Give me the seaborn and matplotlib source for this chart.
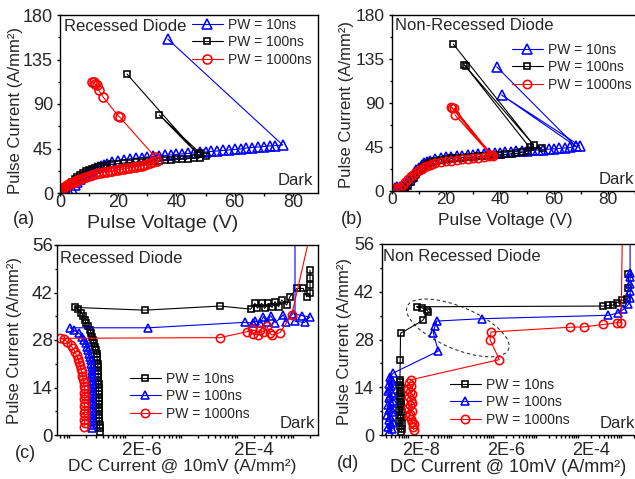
import numpy as np
import seaborn as sns
import matplotlib.pyplot as plt
from matplotlib.ticker import MultipleLocator, LogLocator, NullFormatter
from matplotlib.patches import Ellipse
import matplotlib.transforms as mtransforms

# ---------------- data ----------------
labels = ["PW = 10ns", "PW = 100ns", "PW = 1000ns"]

# (a) recessed diode, pulse I-V
a_blue_v = [2.5, 3, 4, 5, 6, 7, 8, 9, 10, 11, 12, 13, 14, 15, 16, 18, 20, 22, 24, 26,
            28, 30, 32, 34, 36, 38, 40, 42, 44, 46, 48, 50, 52, 54, 56, 58, 60, 62, 64, 66,
            68, 70, 72, 74, 76.5, 37.0]
a_blue_i = [0, 1, 4, 8, 11.5, 14.5, 17, 19.5, 21.5, 23.5, 25, 26.5, 27.5, 28.5, 29.5, 31, 32.5, 33.5, 34.5, 35.2,
            35.8, 36.4, 37, 37.5, 38, 38.5, 39, 39.5, 40, 40.5, 41, 41.5, 42, 42.5, 43, 43.5, 44, 44.5, 45.5, 46,
            46.5, 47, 47.5, 48, 48.5, 155.7]
a_black_v = [1, 2, 3, 4, 5, 6, 7, 8, 9, 10, 11, 12, 13, 14, 15, 16, 18, 20, 22, 24,
             26, 28, 30, 32, 34, 36, 38, 40, 42, 44, 46, 48, 50, 48.2, 34.1, 47.4, 23.0]
a_black_i = [2, 5, 8, 11, 14, 16.5, 18.5, 20.5, 22, 23.5, 24.5, 25.5, 26.3, 27, 27.6, 28.2, 29, 29.7, 30.3, 30.8,
             31.2, 31.6, 32, 32.4, 32.8, 33.2, 33.6, 34, 34.4, 34.8, 35.2, 35.8, 37.4, 40.0, 78.9, 39.0, 120.3]
a_red_v = [0, 0.5, 1, 1.5, 2, 2.5, 3, 3.5, 4, 4.5, 5, 6, 7, 8, 9, 10, 11, 12, 13, 14,
           15, 16, 17, 18, 19, 20, 21, 22, 23, 24, 25, 26, 27, 28, 29, 30, 31, 32, 33.2,
           32.6, 20.6, 20.0, 14.9, 13.3, 12.6, 12.0, 11.8, 10.9]
a_red_i = [3, 4, 5, 6, 7, 8, 9, 10, 10.5, 11, 11.5, 13, 14.5, 15.5, 16.5, 17.5, 18.5, 19.3, 20, 20.5,
           21, 21.5, 22, 22.5, 23, 23.5, 24, 24.5, 25, 25.5, 26, 26.6, 27.2, 27.8, 28.5, 29.2, 30, 31, 32.3,
           36.7, 76.5, 78, 96.7, 104, 108.8, 110, 112, 112]

# (b) non-recessed diode, pulse I-V
b_blue_v = [0, 1, 2, 3, 4, 5, 6, 7, 8, 9, 10, 11, 12, 13, 14, 16, 18, 20, 22, 24,
            26, 28, 30, 32, 34, 36, 38, 40, 42, 44, 46, 48, 50, 52, 54, 56, 58, 60, 62, 64,
            66, 69.5, 40.6, 68.0, 38.8]
b_blue_i = [3, 3.5, 4, 4.5, 5.5, 8, 11, 14.5, 18, 21, 24, 26.5, 28.5, 30, 31, 32.5, 33.5, 34.3, 35, 35.5,
            36, 36.5, 37, 37.5, 38, 38.4, 38.8, 39.2, 39.6, 40, 40.4, 40.8, 41.2, 41.6, 42, 42.4, 42.8, 43.2, 43.6, 44,
            44.5, 46.5, 98.2, 46.0, 127.0]
b_black_v = [4, 5, 6, 7, 8, 9, 10, 11, 12, 13, 14, 16, 18, 20, 22, 24, 26, 28, 30, 32,
             34, 36, 38, 40, 42, 44, 46, 48, 50.5, 55.4, 51.0, 27.3, 26.8, 52.5, 22.7]
b_black_i = [0, 2, 5, 9, 13, 17, 20.5, 23.5, 26, 28, 29.5, 31, 32, 32.8, 33.3, 33.8, 34.2, 34.6, 35, 35.4,
             35.8, 36.2, 36.6, 37, 37.5, 38, 38.5, 39.5, 41, 44.3, 44.5, 127.5, 129, 47, 150.3]
b_red_v = [0, 1, 2, 3, 4, 5, 6, 7, 8, 9, 10, 11, 12, 13, 14, 15, 16, 18, 20, 22,
           24, 26, 28, 30, 32, 34, 36, 37.5, 23.3, 36.5, 23.0, 37.0, 21.8, 22.3]
b_red_i = [2.5, 3, 3.5, 4.5, 6, 9, 12, 15, 17.5, 19.5, 21.5, 23, 24.5, 25.7, 26.7, 27.5, 28.2, 29.3, 30.2, 31,
           31.7, 32.3, 32.9, 33.5, 34.1, 34.7, 35.3, 36.1, 77.8, 37.2, 84.6, 36.6, 86.2, 85]

# (c) recessed diode, pulse current vs DC leakage
c_black_x = [3.55e-7, 3.5e-7, 3.5e-7, 3.45e-7, 3.45e-7, 3.45e-7, 3.4e-7, 3.4e-7, 3.4e-7, 3.4e-7,
             3.4e-7, 3.35e-7, 3.35e-7, 3.35e-7, 3.35e-7, 3.3e-7, 3.3e-7, 3.3e-7, 3.3e-7, 3.25e-7,
             3.25e-7, 3.2e-7, 3.15e-7, 3.1e-7, 3.0e-7, 2.9e-7, 2.8e-7, 2.7e-7, 2.6e-7, 2.5e-7,
             2.35e-7, 2.2e-7, 2.0e-7, 1.9e-7, 1.8e-7, 1.65e-7, 1.45e-7, 1.27e-7,
             2.26e-6, 4.94e-5, 1.75e-4, 2.08e-4, 2.3e-4, 2.74e-4, 3.1e-4, 3.6e-4, 4.2e-4, 4.74e-4,
             5.5e-4, 6.24e-4, 7.66e-4, 8.79e-4, 1.16e-3, 1.52e-3, 1.74e-3, 2.0e-3, 2.0e-3, 2.0e-3, 2.0e-3]
c_black_y = [1, 2, 3, 4, 5, 6, 7, 8, 9, 10, 11, 12, 13, 14, 15, 16, 17, 18, 19, 20,
             21, 22, 23, 24, 25, 26, 27, 28, 29, 30, 31, 32, 33, 34, 35, 36, 37, 37.6,
             36.8, 38.0, 37.1, 38.8, 37.4, 38.8, 37.3, 38.8, 37.6, 39.3,
             37.8, 39.8, 38.3, 40.8, 43.2, 43.2, 40.8, 41.8, 44.2, 46.2, 48.6]
c_blue_x = [2.55e-7, 2.6e-7, 2.55e-7, 2.6e-7, 2.55e-7, 2.6e-7, 2.55e-7, 2.6e-7, 2.55e-7, 2.6e-7,
            2.55e-7, 2.6e-7, 2.55e-7, 2.6e-7, 2.55e-7, 2.55e-7, 2.55e-7, 2.55e-7,
            2.52e-7, 2.48e-7, 2.42e-7, 2.35e-7, 2.27e-7, 2.18e-7, 2.07e-7, 1.97e-7, 1.85e-7, 1.7e-7,
            1.5e-7, 1.2e-7, 1.04e-7,
            2.6e-6, 1.38e-4, 1.9e-4, 2.08e-4, 2.6e-4, 2.94e-4, 3.4e-4, 3.97e-4, 4.8e-4, 6.68e-4,
            7.5e-4, 9.8e-4, 1.42e-3, 2.0e-3, 1.6e-3, 1.08e-3, 1.08e-3]
c_blue_y = [2, 3, 4, 5, 6, 7, 8, 9, 10, 11, 12, 13, 14, 15, 16, 17, 18, 19,
            20, 21, 22, 23, 24, 25, 26, 27, 28, 29, 30, 31, 31.6,
            31.6, 33.2, 33.0, 33.6, 33.0, 34.9, 33.2, 35.2, 33.1, 35.4,
            33.3, 35.8, 35.2, 34.8, 33.2, 33.5, 80]
c_red_x = [1.85e-7, 1.9e-7, 1.85e-7, 1.9e-7, 1.85e-7, 1.9e-7, 1.85e-7, 1.9e-7, 1.85e-7, 1.9e-7,
           1.85e-7, 1.9e-7, 1.85e-7, 1.82e-7,
           1.77e-7, 1.73e-7, 1.68e-7, 1.63e-7, 1.57e-7, 1.5e-7, 1.44e-7, 1.36e-7, 1.27e-7, 1.17e-7,
           1.06e-7, 9.3e-8, 8.0e-8, 6.9e-8,
           4.94e-5, 1.52e-4, 1.82e-4, 1.95e-4, 2.39e-4, 2.56e-4, 2.94e-4, 3.37e-4, 3.86e-4, 4.14e-4,
           5.82e-4, 9.42e-4, 2.2e-3]
c_red_y = [2.5, 3.5, 4.5, 5.5, 6.5, 7.5, 8.5, 9.5, 10.5, 11.5, 12.5, 13.5, 14.5, 15.5,
           16.5, 17.5, 18.5, 19.5, 20.5, 21.5, 22.5, 23.5, 24.5, 25.5, 26.5, 27.5, 28.2, 28.5,
           28.7, 30.45, 31.14, 29.67, 29.47, 30.95, 30.45, 32.12, 29.97, 29.47,
           30.16, 35.37, 62]

# (d) non-recessed diode, pulse current vs DC leakage
d_black_x = [6.8e-9, 7.2e-9, 6.5e-9, 7.0e-9, 6.2e-9, 6.9e-9, 6.4e-9, 7.1e-9, 6.0e-9, 6.6e-9,
             6.9e-9, 6.3e-9, 6.7e-9, 6.1e-9, 6.8e-9, 6.4e-9, 6.6e-9, 6.2e-9, 6.5e-9, 6.4e-9,
             6.5e-9, 6.6e-9, 2.2e-8, 2.97e-8, 2.72e-8, 2.07e-8, 1.58e-8,
             3.89e-4, 5.1e-4, 6.7e-4, 8.0e-4, 1.05e-3, 1.38e-3, 1.51e-3, 1.51e-3]
d_black_y = [1, 1.8, 2.6, 3.4, 4.2, 5, 5.8, 6.6, 7.4, 8.2, 9, 9.8, 10.6, 11.4, 12.2, 13, 13.8, 14.6, 15.4, 16.2,
             22.1, 29.8, 33.6, 36.1, 36.7, 37.3, 37.6,
             37.8, 38.0, 38.1, 38.8, 39.5, 39.8, 43.2, 47.1]
d_blue_x = [3.6e-9, 4.1e-9, 3.3e-9, 3.9e-9, 4.4e-9, 3.5e-9, 3.8e-9, 3.2e-9, 4.2e-9, 3.6e-9,
            4.0e-9, 3.4e-9, 3.9e-9, 4.3e-9, 3.5e-9, 3.7e-9, 4.1e-9, 3.3e-9, 3.8e-9, 4.0e-9,
            3.6e-9, 4.2e-9, 3.9e-9, 3.7e-9, 4.5e-9,
            5.1e-8, 3.9e-8, 4.27e-8, 4.67e-8, 5.36e-7, 5.1e-4, 8.8e-4, 1.15e-3, 1.51e-3,
            1.66e-3, 1.66e-3, 1.66e-3, 1.66e-3, 1.66e-3, 1.66e-3]
d_blue_y = [1, 1.7, 2.4, 3.1, 3.8, 4.5, 5.2, 5.9, 6.6, 7.3, 8, 8.7, 9.4, 10.1, 10.8, 11.5, 12.2, 12.9, 13.6, 14.3,
            15, 15.7, 16.4, 17.1, 18.2,
            24.6, 30.0, 31.9, 33.4, 34.1, 35.1, 35.8, 36.8, 38.3,
            40.3, 42.2, 44.2, 46.2, 47.6, 80]
d_red_x = [1.35e-8, 1.3e-8, 1.4e-8, 1.25e-8, 1.15e-8, 1.05e-8, 1.1e-8, 1.2e-8, 1.0e-8, 1.1e-8,
           1.25e-8, 1.15e-8, 1.05e-8, 1.2e-8, 1.1e-8, 1.0e-8, 1.15e-8, 1.05e-8, 1.16e-8,
           1.39e-6, 8.4e-7, 8.9e-7, 6.4e-5, 1.39e-4, 3.89e-4, 8.0e-4, 1.02e-3, 1.15e-3]
d_red_y = [1.5, 2.3, 3.1, 3.9, 4.7, 5.5, 6.3, 7.1, 7.9, 8.7, 9.5, 10.3, 11.1, 11.9, 12.7, 13.5, 14.3, 15.1, 16.2,
           22.1, 28.0, 30.2, 31.6, 31.7, 32.4, 32.9, 32.9, 80]

log_ticks = [2e-9, 2e-8, 2e-7, 2e-6, 2e-5, 2e-4, 2e-3]
log_tick_labels = ["", "2E-8", "", "2E-6", "", "2E-4", ""]

# ---------------- style ----------------
sns.set_theme(style="ticks")
plt.rcParams['font.family'] = ['Liberation Sans', 'DejaVu Sans']
plt.rcParams['axes.linewidth'] = 1.0
plt.rcParams['axes.edgecolor'] = 'black'

BLUE, BLACK, RED = '#0000ff', '#000000', '#ff0000'

fig = plt.figure(figsize=(6.35, 4.79), dpi=100)
W, H = 635.0, 479.0


def px_axes(l, t, r, b):
    return fig.add_axes([l / W, 1 - b / H, (r - l) / W, (b - t) / H])


ax_a = px_axes(60, 15, 318, 193)
ax_b = px_axes(392, 15, 640, 191)
ax_c = px_axes(57, 245, 318, 435)
ax_d = px_axes(382, 244, 640, 435)


def draw(ax, xs, ys, color, marker, ms, label):
    sns.lineplot(x=xs, y=ys, ax=ax, sort=False, estimator=None, errorbar=None,
                 color=color, marker=marker, markersize=ms, mfc='none', mec=color,
                 mew=1.15, lw=0.8, label=label, legend=False)


def style(ax, xpad, ypad, size):
    ax.tick_params(which='both', direction='out', labelsize=size,
                   color='black', width=1)
    ax.tick_params(axis='x', which='both', pad=xpad)
    ax.tick_params(axis='y', which='both', pad=ypad)
    ax.tick_params(which='major', length=2.5)
    ax.tick_params(which='minor', length=1.8)
    ax.set_xlabel('')
    ax.set_ylabel('')
    for s in ax.spines.values():
        s.set_color('black')


def legend(ax, x0, y0):
    h, l = ax.get_legend_handles_labels()
    ax.legend(h, l, loc='upper left', bbox_to_anchor=(x0, y0), frameon=False,
              fontsize=10, borderpad=0, borderaxespad=0, handlelength=2.2,
              handletextpad=0.4, labelspacing=0.25)


# (a)
draw(ax_a, a_blue_v, a_blue_i, BLUE, '^', 7, labels[0])
draw(ax_a, a_black_v, a_black_i, BLACK, 's', 5, labels[1])
draw(ax_a, a_red_v, a_red_i, RED, 'o', 6.5, labels[2])
ax_a.set_xlim(0, 88.6)
ax_a.set_ylim(0, 180)

# (b)
draw(ax_b, b_blue_v, b_blue_i, BLUE, '^', 7, labels[0])
draw(ax_b, b_black_v, b_black_i, BLACK, 's', 5, labels[1])
draw(ax_b, b_red_v, b_red_i, RED, 'o', 6, labels[2])
ax_b.set_xlim(0, 91.9)
ax_b.set_ylim(0, 180)

for ax, yp, fs in ((ax_a, 2.5, 13), (ax_b, 3.0, 12.5)):
    ax.xaxis.set_major_locator(MultipleLocator(20))
    ax.xaxis.set_minor_locator(MultipleLocator(10))
    ax.set_yticks([0, 45, 90, 135, 180])
    ax.yaxis.set_minor_locator(MultipleLocator(22.5))
    style(ax, -2.0, yp, fs)

# (c)
draw(ax_c, c_black_x, c_black_y, BLACK, 's', 5, labels[0])
draw(ax_c, c_blue_x, c_blue_y, BLUE, '^', 6, labels[1])
draw(ax_c, c_red_x, c_red_y, RED, 'o', 6, labels[2])
ax_c.set_xscale('log')

# (d)
draw(ax_d, d_black_x, d_black_y, BLACK, 's', 5, labels[0])
draw(ax_d, d_blue_x, d_blue_y, BLUE, '^', 6, labels[1])
draw(ax_d, d_red_x, d_red_y, RED, 'o', 6, labels[2])
ax_d.set_xscale('log')

for ax, yp, fs in ((ax_c, 0.5, 13.5), (ax_d, 3.3, 13)):
    ax.set_xticks(log_ticks, log_tick_labels)
    ax.xaxis.set_minor_locator(LogLocator(base=10, subs=np.arange(1, 10), numticks=50))
    ax.xaxis.set_minor_formatter(NullFormatter())
    ax.set_ylim(0, 56)
    ax.set_yticks([0, 14, 28, 42, 56])
    ax.yaxis.set_minor_locator(MultipleLocator(7))
    style(ax, 2.8, yp, fs)
ax_c.set_xlim(6.07e-8, 2.78e-3)
ax_d.set_xlim(2.42e-9, 2.84e-3)

# dashed ellipse in (d)
off = mtransforms.ScaledTranslation(1.47e-7, 31.4, ax_d.transData)
ell = Ellipse((0, 0), 1.10, 0.42, angle=-23, fill=False, ls=(0, (3, 2.5)), lw=0.8,
              ec='#333333', transform=fig.dpi_scale_trans + off, clip_on=False)
ax_d.add_patch(ell)

# legends
legend(ax_a, 0.512, 0.985)
legend(ax_b, 0.484, 0.843)
legend(ax_c, 0.280, 0.333)
legend(ax_d, 0.264, 0.300)

# in-plot texts
ax_a.text(0.016, 0.934, "Recessed Diode", transform=ax_a.transAxes, fontsize=12, va='center', ha='left')
ax_b.text(0.012, 0.9375, "Non-Recessed Diode", transform=ax_b.transAxes, fontsize=12, va='center', ha='left')
ax_c.text(0.0115, 0.93, "Recessed Diode", transform=ax_c.transAxes, fontsize=12, va='center', ha='left')
ax_d.text(0.005, 0.935, "Non Recessed Diode", transform=ax_d.transAxes, fontsize=12, va='center', ha='left')
ax_a.text(0.98, 0.073, "Dark", transform=ax_a.transAxes, fontsize=12, va='center', ha='right')
ax_b.text(0.835, 0.0625, "Dark", transform=ax_b.transAxes, fontsize=12, va='center', ha='left')
ax_c.text(0.9885, 0.0616, "Dark", transform=ax_c.transAxes, fontsize=12, va='center', ha='right')
ax_d.text(0.845, 0.061, "Dark", transform=ax_d.transAxes, fontsize=12, va='center', ha='left')

# axis labels and panel tags
ylab = "Pulse Current (A/mm²)"
fig.text(16 / W, 1 - 110 / H, ylab, rotation=90, fontsize=12, ha='center', va='center')
fig.text(347 / W, 1 - 105 / H, ylab, rotation=90, fontsize=12, ha='center', va='center')
fig.text(15 / W, 1 - 340 / H, ylab, rotation=90, fontsize=12, ha='center', va='center')
fig.text(344 / W, 1 - 341.7 / H, ylab, rotation=90, fontsize=12, ha='center', va='center')
fig.text(163 / W, 1 - 223 / H, "Pulse Voltage (V)", fontsize=14, ha='center', va='center')
fig.text(505 / W, 1 - 221 / H, "Pulse Voltage (V)", fontsize=12.5, ha='center', va='center')
fig.text(182 / W, 1 - 467 / H, "DC Current @ 10mV (A/mm²)", fontsize=12.5, ha='center', va='center')
fig.text(508 / W, 1 - 468 / H, "DC Current @ 10mV (A/mm²)", fontsize=13, ha='center', va='center')
fig.text(13 / W, 1 - 220 / H, "(a)", fontsize=13, ha='left', va='center')
fig.text(341 / W, 1 - 220 / H, "(b)", fontsize=13, ha='left', va='center')
fig.text(15 / W, 1 - 453 / H, "(c)", fontsize=13, ha='left', va='center')
fig.text(337 / W, 1 - 463 / H, "(d)", fontsize=13, ha='left', va='center')

fig.savefig("out.png", dpi=100)
